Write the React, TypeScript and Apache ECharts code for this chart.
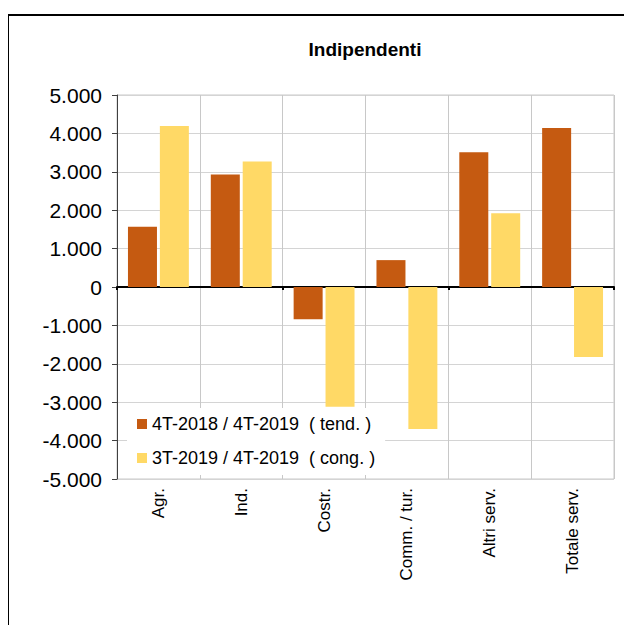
import React, { useEffect, useRef } from "react";
import * as echarts from "echarts";

const categories = ["Agr.", "Ind.", "Costr.", "Comm. / tur.", "Altri serv.", "Totale serv."];
const tendValues = [1570, 2930, -840, 700, 3510, 4140];
const congValues = [4190, 3270, -3120, -3700, 1920, -1820];
const seriesNames = ["4T-2018 / 4T-2019  ( tend. )", "3T-2019 / 4T-2019  ( cong. )"];
const titleText = "Indipendenti";

const fmt = (v: number) => {
  const s = Math.abs(v).toString().replace(/\B(?=(\d{3})+(?!\d))/g, ".");
  return (v < 0 ? "-" : "") + s;
};

export default function App() {
  const ref = useRef<HTMLDivElement>(null);
  useEffect(() => {
    if (!ref.current) return;
    const chart = echarts.init(ref.current, null, { renderer: "svg" });
    const font = "'Liberation Sans', Arial, sans-serif";
    chart.setOption({
      animation: false,
      backgroundColor: "#ffffff",
      textStyle: { fontFamily: font },
      title: {
        text: titleText,
        left: 360,
        top: 35,
        textAlign: "center",
        textStyle: { fontSize: 19, fontWeight: "bold", color: "#000", fontFamily: font },
      },
      graphic: [
        {
          type: "rect",
          shape: { x: 8, y: 15, width: 700, height: 700 },
          style: { fill: "none", stroke: "#000", lineWidth: 2 },
          silent: true,
          z: 100,
        },
      ],
      grid: { left: 117, top: 95, right: 18, bottom: 154, show: true, borderColor: "#c8c8c8", borderWidth: 1 },
      legend: {
        orient: "vertical",
        left: 127,
        top: 408,
        itemWidth: 10,
        itemHeight: 10,
        itemGap: 16,
        itemTextGap: 4,
        padding: [7, 10, 8, 10],
        backgroundColor: "#ffffff",
        icon: "rect",
        textStyle: { fontSize: 18, color: "#000", fontFamily: font, lineHeight: 18 },
        data: seriesNames,
        z: 10,
      },
      xAxis: [
        {
          type: "category",
          data: categories,
          position: "bottom",
          axisLine: { show: false, onZero: false },
          axisTick: { show: false },
          splitLine: { show: true, lineStyle: { color: "#c8c8c8", width: 1 } },
          axisLabel: { rotate: 90, fontSize: 17, color: "#000", margin: 9, fontFamily: font },
        },
        {
          type: "category",
          data: categories,
          position: "bottom",
          axisLine: { show: true, onZero: true, lineStyle: { color: "#000", width: 2 } },
          axisTick: { show: true, length: 3, lineStyle: { color: "#000", width: 2 } },
          axisLabel: { show: false },
          splitLine: { show: false },
        },
      ],
      yAxis: {
        type: "value",
        min: -5000,
        max: 5000,
        interval: 1000,
        axisLine: { show: true, lineStyle: { color: "#404040", width: 1 } },
        axisTick: { show: true, length: 5, lineStyle: { color: "#404040" } },
        splitLine: { show: true, lineStyle: { color: "#d4d4d4", width: 1 } },
        axisLabel: { formatter: fmt, fontSize: 21, color: "#000", margin: 15, fontFamily: font },
      },
      series: [
        {
          name: seriesNames[0],
          type: "bar",
          data: tendValues,
          barWidth: 29,
          barGap: "10%",
          itemStyle: { color: "#C55A11" },
        },
        {
          name: seriesNames[1],
          type: "bar",
          data: congValues,
          barWidth: 29,
          barGap: "10%",
          itemStyle: { color: "#FFD966" },
        },
      ],
    });
    return () => chart.dispose();
  }, []);
  return <div ref={ref} style={{ width: 632, height: 633, margin: -8 }} />;
}
